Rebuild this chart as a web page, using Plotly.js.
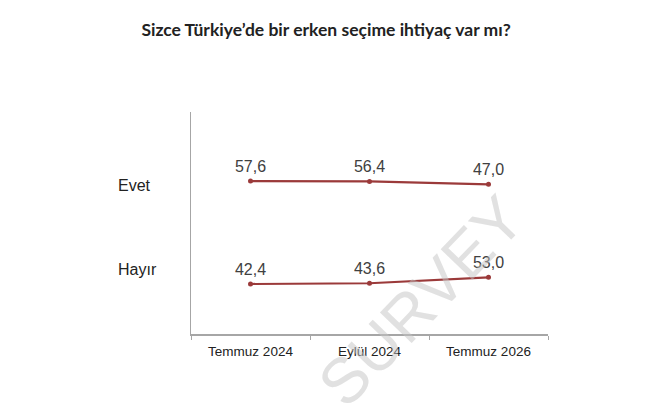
<!DOCTYPE html>
<html>
<head>
<meta charset="utf-8">
<script src="https://cdn.plot.ly/plotly-3.0.1.min.js"></script>
<style>html,body{margin:0;padding:0;background:#fff;}#chart{width:671px;height:420px;}</style>
</head>
<body>
<div id="chart"></div>
<script>
const categories = ["Temmuz 2024", "Eylül 2024", "Temmuz 2026"];
const evetValues = [57.6, 56.4, 47.0];
const hayirValues = [42.4, 43.6, 53.0];
const rowLabels = ["Evet", "Hayır"];

const lineColor = "#9b3a3a";
const lineBase = {
  type: "scatter",
  mode: "lines+markers",
  x: categories,
  line: {color: lineColor, width: 2.2},
  marker: {color: lineColor, size: 5},
  hoverinfo: "skip",
  cliponaxis: false,
  showlegend: false
};
const textBase = {
  type: "scatter",
  mode: "markers+text",
  x: categories,
  marker: {color: lineColor, size: 7, opacity: 0},
  texttemplate: "%{y:.1f}",
  textposition: "top center",
  textfont: {family: "Liberation Sans, Arial, sans-serif", size: 16, color: "#404040"},
  hoverinfo: "skip",
  cliponaxis: false,
  showlegend: false
};

const data = [
  Object.assign({}, lineBase, {name: rowLabels[0], y: evetValues, yaxis: "y2"}),
  Object.assign({}, lineBase, {name: rowLabels[1], y: hayirValues, yaxis: "y"}),
  Object.assign({}, textBase, {name: rowLabels[0], y: evetValues, yaxis: "y2"}),
  Object.assign({}, textBase, {name: rowLabels[1], y: hayirValues, yaxis: "y"})
];

const layout = {
  width: 671, height: 420,
  margin: {l: 191, r: 123, t: 112, b: 86},
  paper_bgcolor: "#fff", plot_bgcolor: "#fff",
  separators: ",.",
  title: {
    text: "<b>Sizce Türkiye’de bir erken seçime ihtiyaç var mı?</b>",
    font: {family: "Lato, DejaVu Sans, sans-serif", size: 17.5, color: "#222"},
    xref: "container", x: 0.486, xanchor: "center",
    yref: "container", y: 0.928, yanchor: "middle"
  },
  xaxis: {
    type: "category",
    showline: true, linecolor: "#a6a6a6", linewidth: 1.5,
    ticks: "outside", tickson: "boundaries", ticklen: 4, tickcolor: "#a6a6a6",
    ticklabelstandoff: 4,
    showgrid: false, zeroline: false,
    tickfont: {family: "Liberation Sans, Arial, sans-serif", size: 13.5, color: "#222"},
    range: [-0.5, 2.5], fixedrange: true
  },
  yaxis: {
    domain: [0, 0.5],
    range: [-36.7, 138.9],
    showline: true, linecolor: "#a6a6a6", linewidth: 1.5,
    showticklabels: false, ticks: "", showgrid: false, zeroline: false
  },
  yaxis2: {
    domain: [0.5, 1],
    range: [-77.4, 279.6],
    showline: true, linecolor: "#a6a6a6", linewidth: 1.5,
    showticklabels: false, ticks: "", showgrid: false, zeroline: false
  },
  annotations: [
    {text: rowLabels[0], xref: "paper", x: -0.157, xanchor: "center", yref: "paper", y: 0.67, yanchor: "middle",
     showarrow: false, font: {family: "Liberation Sans, Arial, sans-serif", size: 16, color: "#222"}},
    {text: rowLabels[1], xref: "paper", x: -0.15, xanchor: "center", yref: "paper", y: 0.29, yanchor: "middle",
     showarrow: false, font: {family: "Liberation Sans, Arial, sans-serif", size: 16, color: "#222"}},
    {text: "SURVEY", xref: "paper", x: 0.645, xanchor: "center", yref: "paper", y: 0.15, yanchor: "middle",
     textangle: -46, showarrow: false,
     font: {family: "Liberation Sans, Arial, sans-serif", size: 64, color: "rgba(195,195,195,0.5)"}}
  ]
};

Plotly.newPlot("chart", data, layout, {displayModeBar: false, staticPlot: true});
</script>
</body>
</html>
